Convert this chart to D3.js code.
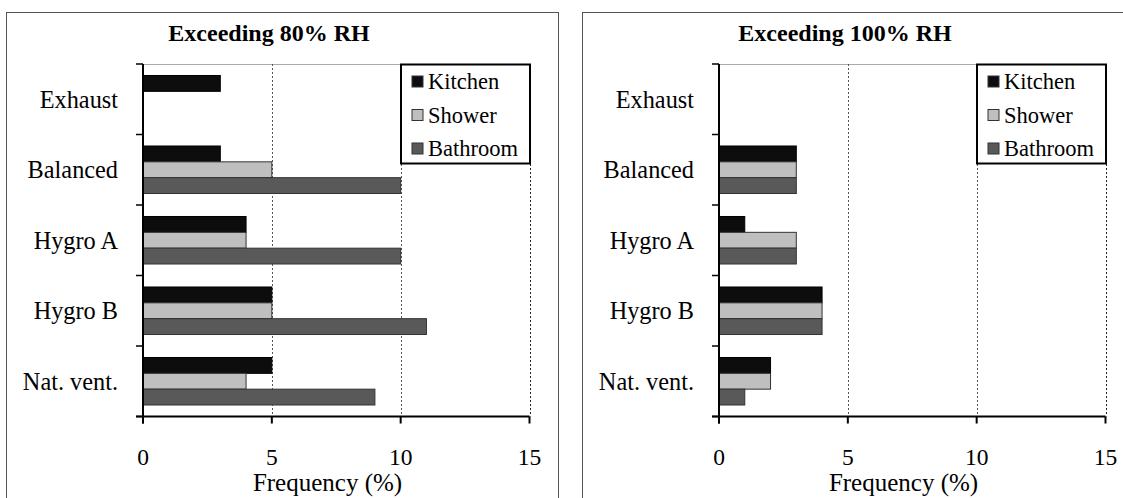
<!DOCTYPE html>
<html><head><meta charset="utf-8">
<script src="https://cdn.jsdelivr.net/npm/d3@7"></script>
<style>
html,body{margin:0;padding:0;background:#fff;}
svg{display:block;font-family:"Liberation Serif","Times New Roman",serif;}
</style></head>
<body>
<svg id="chart" width="1123" height="498"></svg>
<script>
const categories = ["Exhaust", "Balanced", "Hygro A", "Hygro B", "Nat. vent."];
const seriesNames = ["Kitchen", "Shower", "Bathroom"];
const seriesColors = ["#0d0d0d", "#bfbfbf", "#595959"];
const kitchen80 = [3, 3, 4, 5, 5];
const shower80 = [0, 5, 4, 5, 4];
const bathroom80 = [0, 10, 10, 11, 9];
const kitchen100 = [0, 3, 1, 4, 2];
const shower100 = [0, 3, 3, 4, 2];
const bathroom100 = [0, 3, 3, 4, 1];
const xTicks = [0, 5, 10, 15];
const titles = ["Exceeding 80% RH", "Exceeding 100% RH"];
const xLabel = "Frequency (%)";

const svg = d3.select("#chart");

function drawPanel(ox, title, kitchen, shower, bathroom) {
  const g = svg.append("g").attr("transform", `translate(${ox},0)`);
  // panel border
  g.append("rect").attr("x", 6.5).attr("y", 12.5).attr("width", 552).attr("height", 520)
    .attr("fill", "none").attr("stroke", "#555").attr("stroke-width", 1);

  const x0 = 143, x1 = 529.5, yTop = 64, yBot = 416.5;
  const x = d3.scaleLinear().domain([0, 15]).range([x0, x1]);
  const y = d3.scaleBand().domain(categories).range([yTop, yBot]).padding(0);
  const bw = y.bandwidth();
  const pad = bw * 0.163;
  const ys = d3.scaleBand().domain(seriesNames).range([pad, bw - pad]).padding(0);

  // title
  g.append("text").attr("x", 269).attr("y", 41).attr("text-anchor", "middle")
    .attr("font-weight", "bold").attr("font-size", 24).attr("fill", "#000").text(title);

  // top plot line
  g.append("line").attr("x1", x0).attr("x2", x1).attr("y1", yTop + 0.5).attr("y2", yTop + 0.5)
    .attr("stroke", "#aaa").attr("stroke-width", 1);

  // gridlines
  g.selectAll(".grid").data(xTicks.filter(d => d > 0)).enter().append("line")
    .attr("x1", d => Math.round(x(d)) + 0.5).attr("x2", d => Math.round(x(d)) + 0.5)
    .attr("y1", yTop).attr("y2", yBot)
    .attr("stroke", d => d === 15 ? "#222" : "#555").attr("stroke-width", 1)
    .attr("stroke-dasharray", "2,2");

  // bars
  const series = [kitchen, shower, bathroom];
  series.forEach((vals, si) => {
    const data = categories.map((c, i) => ({c, v: vals[i]})).filter(d => d.v > 0);
    g.selectAll(".bar" + si).data(data).enter().append("rect")
      .attr("x", x(0))
      .attr("y", d => y(d.c) + ys(seriesNames[si]))
      .attr("width", d => x(d.v) - x(0))
      .attr("height", ys.bandwidth())
      .attr("fill", seriesColors[si])
      .attr("stroke", si === 0 ? "#000" : "#333").attr("stroke-width", 1);
  });

  // y axis
  const yAxisG = g.append("g");
  yAxisG.append("line").attr("x1", x0).attr("x2", x0).attr("y1", yTop).attr("y2", yBot + 7)
    .attr("stroke", "#000").attr("stroke-width", 2);
  const yTickPos = categories.map(c => y(c)).concat([yBot]);
  yAxisG.selectAll(".yt").data(yTickPos).enter().append("line")
    .attr("x1", x0 - 7).attr("x2", x0).attr("y1", d => d).attr("y2", d => d)
    .attr("stroke", "#000").attr("stroke-width", 1.5);
  yAxisG.selectAll(".yl").data(categories).enter().append("text")
    .attr("x", x0 - 25).attr("y", d => y(d) + bw / 2 + 8.5)
    .attr("text-anchor", "end").attr("font-size", 24.3).attr("fill", "#000").text(d => d);

  // x axis
  const xAxisG = g.append("g");
  xAxisG.append("line").attr("x1", x0 - 7).attr("x2", x1).attr("y1", yBot).attr("y2", yBot)
    .attr("stroke", "#000").attr("stroke-width", 2);
  xAxisG.selectAll(".xt").data(xTicks).enter().append("line")
    .attr("x1", d => x(d)).attr("x2", d => x(d)).attr("y1", yBot).attr("y2", yBot + 7)
    .attr("stroke", "#000").attr("stroke-width", 2);
  xAxisG.selectAll(".xl").data(xTicks).enter().append("text")
    .attr("x", d => x(d)).attr("y", 464.5).attr("text-anchor", "middle")
    .attr("font-size", 23.5).attr("fill", "#000").text(d => d);
  g.append("text").attr("x", 327.5).attr("y", 491).attr("text-anchor", "middle")
    .attr("font-size", 25).attr("fill", "#000").text(xLabel);

  // legend
  const lg = g.append("g");
  lg.append("rect").attr("x", 401).attr("y", 64.5).attr("width", 129).attr("height", 99)
    .attr("fill", "#fff").attr("stroke", "#000").attr("stroke-width", 2);
  seriesNames.forEach((s, i) => {
    const cy = 81.5 + i * 33.5;
    lg.append("rect").attr("x", 412).attr("y", cy - 5.5).attr("width", 11).attr("height", 11)
      .attr("fill", seriesColors[i]).attr("stroke", "#333").attr("stroke-width", 1);
    lg.append("text").attr("x", 428).attr("y", cy + 7.5).attr("font-size", 22.5)
      .attr("fill", "#000").text(s);
  });
}

drawPanel(0, titles[0], kitchen80, shower80, bathroom80);
drawPanel(576, titles[1], kitchen100, shower100, bathroom100);
</script>
</body></html>
